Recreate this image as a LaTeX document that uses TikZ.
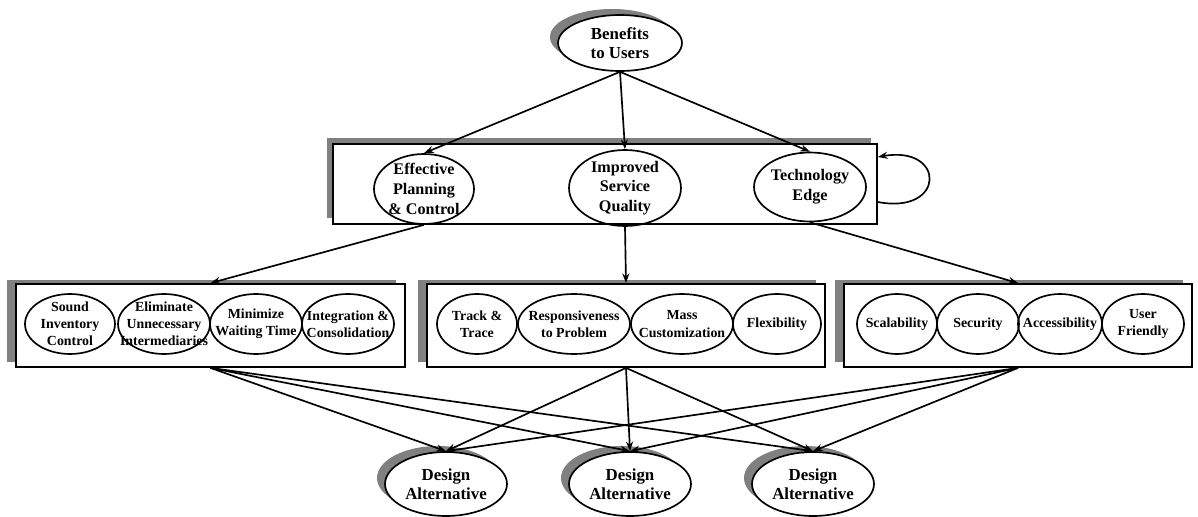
\documentclass[tikz,border=0pt]{standalone}
\usepackage{fontspec}
\setmainfont{Liberation Serif}
\usetikzlibrary{arrows.meta, calc, shapes.geometric, shadows}

\tikzset{
  oval/.style={ellipse, draw, line width=0.95pt, inner sep=0pt},
  grpbox/.style={rectangle, draw, line width=1.05pt, fill=white, inner sep=0pt},
  link/.style={line width=0.95pt},
  bigtxt/.style={font=\bfseries\fontsize{9.6}{10.6}\selectfont, align=center, inner sep=0pt},
  midtxt/.style={font=\bfseries\fontsize{9.2}{11.2}\selectfont, align=center, inner sep=0pt},
  smalltxt/.style={font=\bfseries\fontsize{7.9}{9.8}\selectfont, align=center, inner sep=0pt},
  ovalshadow/.style={drop shadow={shadow xshift=-0.16cm, shadow yshift=0.12cm, opacity=1, fill=gray}},
  critshadow/.style={drop shadow={shadow xshift=-0.12cm, shadow yshift=0.12cm, opacity=1, fill=gray}},
  subshadow/.style={drop shadow={shadow xshift=-0.18cm, shadow yshift=0.09cm, opacity=1, fill=gray}}
}

\begin{document}
\begin{tikzpicture}[x=0.02cm, y=-0.02cm, >={Stealth[length=5.5pt,width=4pt]}]
\useasboundingbox (0,0) rectangle (1198,517);

% Goal
\node[oval, fill=white, ovalshadow, minimum width=2.48cm, minimum height=1.12cm,
      label={[bigtxt]center:Benefits\\to Users}] (ben) at (620,43) {};

% Criteria
\node[grpbox, critshadow, minimum width=10.88cm, minimum height=1.6cm] (crit) at (605,184) {};
\node[oval, minimum width=2cm, minimum height=1.4cm,
      label={[midtxt]center:Effective\\Planning\\\& Control}] (plan) at (424,189) {};
\node[oval, minimum width=2.24cm, minimum height=1.52cm,
      label={[midtxt]center:Improved\\Service\\Quality}] (serv) at (625,188) {};
\node[oval, minimum width=2.24cm, minimum height=1.38cm,
      label={[midtxt]center:Technology\\Edge}] (tech) at (810,187) {};

% Sub-criteria groups
\node[grpbox, subshadow, minimum width=7.78cm, minimum height=1.66cm] (grpA) at (210.5,325.5) {};
\node[grpbox, subshadow, minimum width=7.96cm, minimum height=1.66cm] (grpB) at (626,325.5) {};
\node[grpbox, subshadow, minimum width=6.96cm, minimum height=1.66cm] (grpC) at (1018,325.5) {};

\foreach \x/\w/\txt/\nm in {
    70/1.8/{Sound\\Inventory\\Control}/subA1,
    164/1.84/{Eliminate\\Unnecessary\\Intermediaries}/subA2,
    256/1.84/{Minimize\\Waiting Time}/subA3,
    348/1.84/{Integration \&\\Consolidation}/subA4,
    477/1.6/{Track \&\\Trace}/subB1,
    574/2.24/{Responsiveness\\to Problem}/subB2,
    682/2.04/{Mass\\Customization}/subB3,
    777/1.76/{Flexibility}/subB4,
    897/1.6/{Scalability}/subC1,
    978/1.64/{Security}/subC2,
    1060/1.68/{Accessibility}/subC3,
    1143/1.64/{User\\Friendly}/subC4} {
  \node[oval, minimum width=\w cm, minimum height=1.2cm,
        label={[smalltxt]center:\txt}] (\nm) at (\x,324) {};
}

% Alternatives
\foreach \x/\nm in {446/altA, 630/altB, 813/altC} {
  \node[oval, fill=white, ovalshadow, minimum width=2.44cm, minimum height=1.28cm,
        label={[bigtxt]center:Design\\Alternative}] (\nm) at (\x,484) {};
}

% Links
\draw[link, ->] (ben.south) -- (plan.north);
\draw[link, ->] (ben.south) -- (serv.north);
\draw[link, ->] (ben.south) -- (tech.north);

\draw[link, ->] (plan.south) -- (grpA.north);
\draw[link, ->] (serv.south) -- (grpB.north);
\draw[link, ->] (tech.south) -- (grpC.north);

\foreach \g in {grpA, grpB, grpC} {
  \foreach \a in {altA, altB, altC} {
    \draw[link, ->] (\g.south) -- (\a.north);
  }
}

% Feedback loop
\draw[link, ->] ($(crit.east)+(0,18)$) .. controls +(68,13) and +(68,-12) .. ($(crit.east)+(0,-27)$);

\end{tikzpicture}
\end{document}
